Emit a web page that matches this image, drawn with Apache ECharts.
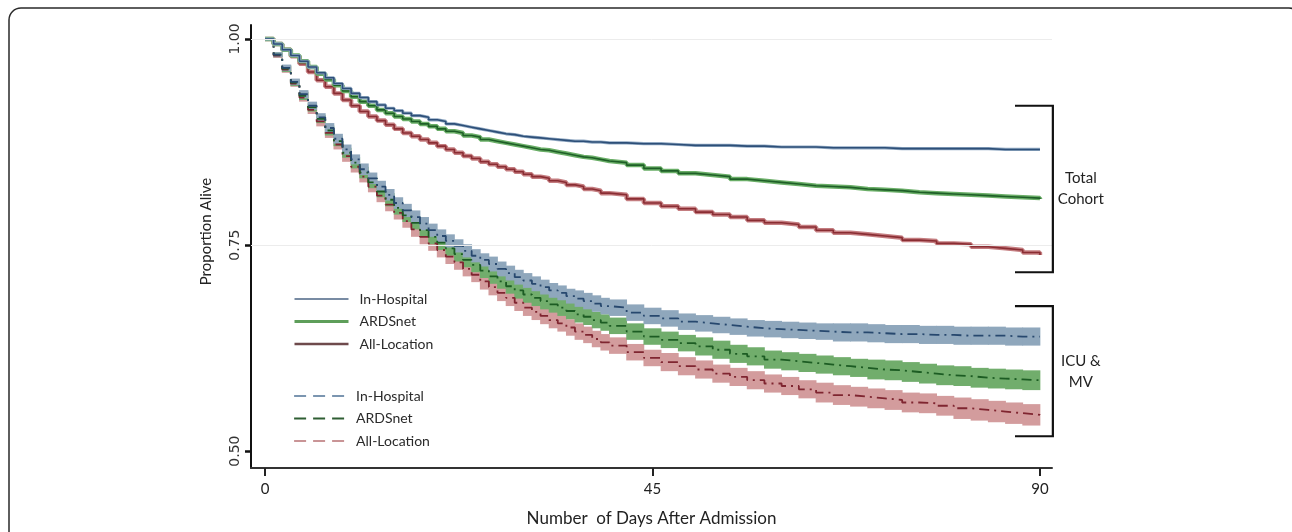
<!DOCTYPE html>
<html><head><meta charset="utf-8">
<script src="https://cdn.jsdelivr.net/npm/echarts@6/dist/echarts.min.js"></script>
<style>html,body{margin:0;padding:0;background:#fff;}#c{width:1292px;height:532px;}</style>
</head><body><div id="c"></div>
<script>
// ---------------- data ----------------
const days = [0,1,2,3,4,5,6,7,8,9,10,11,12,13,14,15,16,17,18,19,20,
  21,22,23,24,25,26,27,28,29,30,31,32,33,34,35,36,37,38,39,40,
  42,44,46,48,50,52,54,56,58,60,62,64,66,68,70,72,74,76,78,80,82,84,86,88,90];

// Total cohort
const tcInHospital = [1.000,0.994,0.987,0.980,0.973,0.966,0.959,0.953,0.946,0.940,0.934,0.929,0.924,0.920,0.916,0.913,0.910,0.907,0.905,0.902,0.900,
  0.897,0.895,0.893,0.891,0.889,0.887,0.885,0.884,0.882,0.881,0.880,0.879,0.878,0.877,0.876,0.876,0.875,0.875,0.874,0.874,
  0.873,0.873,0.872,0.871,0.871,0.871,0.870,0.870,0.869,0.869,0.869,0.868,0.868,0.868,0.868,0.867,0.867,0.867,0.867,0.867,0.867,0.866,0.866,0.866,0.866];
const tcARDSnet = [1.000,0.994,0.987,0.980,0.973,0.966,0.958,0.951,0.944,0.937,0.930,0.924,0.919,0.914,0.910,0.906,0.903,0.900,0.897,0.894,0.891,
  0.888,0.886,0.883,0.881,0.878,0.876,0.874,0.872,0.870,0.868,0.866,0.865,0.863,0.861,0.859,0.857,0.856,0.854,0.852,0.850,
  0.847,0.843,0.840,0.837,0.835,0.833,0.830,0.828,0.826,0.824,0.822,0.821,0.820,0.818,0.817,0.816,0.814,0.813,0.812,0.811,0.810,0.809,0.808,0.807,0.806];
const tcAllLocation = [1.000,0.994,0.987,0.979,0.970,0.960,0.950,0.942,0.934,0.926,0.919,0.912,0.906,0.901,0.896,0.891,0.886,0.882,0.878,0.874,0.870,
  0.866,0.862,0.858,0.855,0.851,0.848,0.845,0.842,0.839,0.836,0.833,0.831,0.828,0.826,0.823,0.821,0.818,0.816,0.813,0.811,
  0.806,0.801,0.797,0.794,0.790,0.787,0.784,0.780,0.777,0.775,0.772,0.768,0.765,0.763,0.761,0.759,0.756,0.755,0.752,0.751,0.748,0.746,0.744,0.741,0.738];

// ICU & MV
const icuInHospital = [1.000,0.981,0.965,0.948,0.933,0.919,0.905,0.892,0.879,0.866,0.854,0.842,0.831,0.821,0.811,0.801,0.792,0.784,0.776,0.768,0.761,
  0.755,0.749,0.743,0.737,0.732,0.727,0.721,0.716,0.711,0.707,0.703,0.699,0.695,0.692,0.688,0.685,0.682,0.679,0.676,0.674,
  0.668,0.664,0.661,0.657,0.655,0.653,0.651,0.649,0.648,0.647,0.646,0.645,0.644,0.644,0.643,0.642,0.642,0.641,0.641,0.640,0.640,0.640,0.639,0.639,0.639];
const icuARDSnet = [1.000,0.981,0.964,0.947,0.931,0.917,0.903,0.889,0.876,0.862,0.850,0.838,0.826,0.815,0.805,0.795,0.786,0.777,0.768,0.760,0.753,
  0.746,0.739,0.732,0.726,0.719,0.712,0.706,0.700,0.695,0.690,0.686,0.682,0.678,0.674,0.670,0.666,0.663,0.659,0.656,0.652,
  0.645,0.639,0.635,0.631,0.627,0.623,0.618,0.615,0.611,0.609,0.607,0.605,0.603,0.601,0.599,0.598,0.596,0.594,0.592,0.591,0.589,0.588,0.587,0.586,0.585];
const icuAllLocation = [1.000,0.980,0.963,0.946,0.929,0.914,0.900,0.886,0.872,0.858,0.845,0.833,0.821,0.810,0.799,0.789,0.779,0.769,0.760,0.752,0.744,
  0.736,0.729,0.721,0.714,0.706,0.699,0.692,0.686,0.680,0.674,0.669,0.664,0.659,0.655,0.650,0.645,0.641,0.636,0.632,0.628,
  0.620,0.613,0.608,0.603,0.599,0.594,0.590,0.586,0.582,0.579,0.575,0.571,0.568,0.566,0.564,0.562,0.559,0.558,0.555,0.552,0.550,0.548,0.546,0.544,0.542];

// ICU & MV confidence half-widths
const icuInHospitalCI = [0,0.003,0.004,0.004,0.005,0.005,0.005,0.006,0.006,0.006,0.006,0.007,0.007,0.007,0.007,0.007,0.008,0.008,0.008,0.008,0.008,
  0.008,0.008,0.008,0.008,0.008,0.009,0.009,0.009,0.009,0.009,0.009,0.009,0.009,0.009,0.009,0.010,0.010,0.010,0.010,0.010,
  0.010,0.010,0.010,0.010,0.010,0.010,0.010,0.010,0.010,0.010,0.010,0.010,0.011,0.011,0.011,0.011,0.011,0.011,0.011,0.011,0.011,0.011,0.011,0.011,0.011];
const icuARDSnetCI = [0,0.003,0.004,0.004,0.005,0.005,0.005,0.006,0.006,0.006,0.007,0.007,0.007,0.007,0.008,0.008,0.008,0.008,0.008,0.009,0.009,
  0.009,0.009,0.009,0.009,0.009,0.009,0.009,0.009,0.010,0.010,0.010,0.010,0.010,0.010,0.010,0.010,0.010,0.010,0.010,0.010,
  0.010,0.010,0.010,0.010,0.011,0.011,0.011,0.011,0.011,0.011,0.011,0.011,0.011,0.011,0.012,0.012,0.012,0.012,0.012,0.012,0.012,0.012,0.012,0.012,0.012];
const icuAllLocationCI = [0,0.003,0.004,0.004,0.005,0.005,0.006,0.006,0.006,0.007,0.007,0.007,0.007,0.008,0.008,0.008,0.008,0.009,0.009,0.009,0.009,
  0.009,0.009,0.009,0.009,0.010,0.010,0.010,0.010,0.010,0.010,0.010,0.010,0.010,0.010,0.010,0.010,0.010,0.010,0.010,0.010,
  0.010,0.010,0.011,0.011,0.011,0.011,0.011,0.011,0.011,0.011,0.011,0.012,0.012,0.012,0.012,0.012,0.012,0.012,0.012,0.013,0.013,0.013,0.013,0.013,0.013];

const xTicks = [0, 45, 90];
const yTicks = [0.50, 0.75, 1.00];
const gridValues = [1.00, 0.75];
const legendLabels = ['In-Hospital', 'ARDSnet', 'All-Location'];
const brackets = [
  {label: 'Total\nCohort', top: 0.919, bottom: 0.717},
  {label: 'ICU &\nMV', top: 0.676, bottom: 0.518}
];
const bracketDays = [87.1, 91.5];
const xTitle = 'Number  of Days After Admission';
const yTitle = 'Proportion Alive';

// ---------------- build ----------------
const pairs = v => days.map((d, i) => [d, v[i]]);
// one step-rectangle per interval: [day, nextDay, lower, upper]
const bandRows = (v, ci) => days.slice(0, -1).map((d, i) =>
  [d, days[i + 1], +(v[i] - ci[i]).toFixed(4), +(v[i] + ci[i]).toFixed(4)]);

const base = {type: 'line', step: 'end', symbol: 'none', showSymbol: false, silent: true, animation: false};

function band(key, v, ci, color) {
  return {
    type: 'custom', name: key, silent: true, animation: false,
    data: bandRows(v, ci),
    encode: {x: [0, 1], y: [2, 3]},
    renderItem: function (params, api) {
      const a = api.coord([api.value(0), api.value(3)]);
      const b = api.coord([api.value(1), api.value(2)]);
      return {
        type: 'rect',
        shape: {x: a[0] - 0.4, y: a[1], width: b[0] - a[0] + 0.8, height: b[1] - a[1]},
        style: {fill: color}
      };
    }
  };
}
function dashed(name, v, color) {
  return Object.assign({}, base, {name: name, data: pairs(v),
    lineStyle: {color: color, width: 1.8, type: [10, 5, 2, 5]}});
}
function solid(name, v, dark, light, bw) {
  return [
    Object.assign({}, base, {name: name + ' band', data: pairs(v), lineStyle: {color: light, width: bw}}),
    Object.assign({}, base, {name: name, data: pairs(v), lineStyle: {color: dark, width: 1.6}})
  ];
}

const series = [];
series.push(Object.assign({}, base, {
  name: 'grid', data: [],
  markLine: {
    silent: true, symbol: ['none', 'none'], animation: false,
    label: {show: false},
    lineStyle: {color: '#ececec', width: 1, type: 'solid'},
    data: gridValues.map(v => ({yAxis: v}))
  }
}));
series.push(band('icuAll', icuAllLocation, icuAllLocationCI, '#d39c9d'));
series.push(band('icuARDS', icuARDSnet, icuARDSnetCI, '#71ad6c'));
series.push(band('icuIH', icuInHospital, icuInHospitalCI, '#8fa7bc'));
series.push(dashed('ICU All-Location', icuAllLocation, '#7f2530'));
series.push(dashed('ICU ARDSnet', icuARDSnet, '#1c5c23'));
series.push(dashed('ICU In-Hospital', icuInHospital, '#27486e'));
series.push(...solid('All-Location', tcAllLocation, '#8a2d33', '#c47d80', 4.5));
series.push(...solid('ARDSnet', tcARDSnet, '#1e5f27', '#6aae67', 4.5));
series.push(...solid('In-Hospital', tcInHospital, '#2d4f78', '#90a8c2', 3.2));

const legendText = {color: '#2a2a2a', fontSize: 14, fontFamily: 'Lato'};
const solidLegendStyles = [
  {color: '#4b6584', width: 1.5},
  {color: '#5e9e5a', width: 3},
  {color: '#6e4a4c', width: 2.5}
];
const dashLegendStyles = [
  {color: '#7b95b0', width: 2.2, type: [12, 7]},
  {color: '#2f5e33', width: 2.2, type: [12, 7]},
  {color: '#c99496', width: 2.2, type: [12, 7]}
];

const option = {
  animation: false,
  backgroundColor: '#ffffff',
  grid: {left: 251, top: 25, right: 240, bottom: 63, containLabel: false},
  xAxis: {
    type: 'value', min: -1.626, max: 91.4,
    name: xTitle, nameLocation: 'middle', nameGap: 42,
    nameTextStyle: {fontSize: 17, fontFamily: 'Lato', color: '#222'},
    axisLine: {onZero: false, lineStyle: {color: '#333', width: 2}},
    axisTick: {show: true, customValues: xTicks, length: 8, lineStyle: {color: '#222', width: 2}},
    axisLabel: {customValues: xTicks, margin: 14, fontSize: 15, fontFamily: 'Lato', color: '#222'},
    splitLine: {show: false}
  },
  yAxis: {
    type: 'value', min: 0.4795, max: 1.017,
    name: yTitle, nameLocation: 'middle', nameRotate: 90, nameGap: 37,
    nameTextStyle: {fontSize: 15, fontFamily: 'Lato', color: '#222', padding: [0, 0, 0, 30]},
    axisLine: {show: true, onZero: false, lineStyle: {color: '#111', width: 2}},
    axisTick: {show: true, customValues: yTicks, length: 6, lineStyle: {color: '#111', width: 2.5}},
    axisLabel: {customValues: yTicks, rotate: 90, margin: 9, fontSize: 14, fontFamily: 'DejaVu Sans', color: '#333',
      formatter: v => Number(v).toFixed(2)},
    splitLine: {show: false}
  },
  legend: [
    {
      orient: 'vertical', left: 293, top: 292, padding: 0, itemWidth: 54, itemHeight: 14, itemGap: 8.5,
      selectedMode: false, textStyle: Object.assign({padding: [0, 0, 0, 6]}, legendText),
      itemStyle: {opacity: 0},
      data: legendLabels.map((n, i) => ({name: n, lineStyle: solidLegendStyles[i], itemStyle: {opacity: 0}}))
    },
    {
      orient: 'vertical', left: 293, top: 389, padding: 0, itemWidth: 50, itemHeight: 14, itemGap: 8.5,
      selectedMode: false, textStyle: Object.assign({padding: [0, 0, 0, 7]}, legendText),
      itemStyle: {opacity: 0},
      formatter: n => n.replace(/^ICU /, ''),
      data: legendLabels.map((n, i) => ({name: 'ICU ' + n, lineStyle: dashLegendStyles[i], itemStyle: {opacity: 0}}))
    }
  ],
  series: series
};

const chart = echarts.init(document.getElementById('c'), null, {renderer: 'canvas'});
chart.setOption(option);

const g = [{
  type: 'rect', silent: true, z: -10,
  shape: {x: 9, y: 8, width: 1292, height: 600, r: 12},
  style: {fill: null, stroke: '#2a2a2a', lineWidth: 1.5}
}];
brackets.forEach(b => {
  const p1 = chart.convertToPixel({gridIndex: 0}, [bracketDays[0], b.top]);
  const p2 = chart.convertToPixel({gridIndex: 0}, [bracketDays[1], b.top]);
  const p3 = chart.convertToPixel({gridIndex: 0}, [bracketDays[1], b.bottom]);
  const p4 = chart.convertToPixel({gridIndex: 0}, [bracketDays[0], b.bottom]);
  g.push({type: 'polyline', silent: true, z: 10, shape: {points: [p1, p2, p3, p4]},
    style: {stroke: '#111', lineWidth: 2.2, fill: null}});
  g.push({type: 'text', silent: true, z: 10, x: p2[0] + 28, y: (p2[1] + p3[1]) / 2,
    style: {text: b.label, fontSize: 15, fontFamily: 'Lato', fill: '#222', align: 'center', verticalAlign: 'middle', lineHeight: 21}});
});
chart.setOption({graphic: g});
</script>
</body></html>
